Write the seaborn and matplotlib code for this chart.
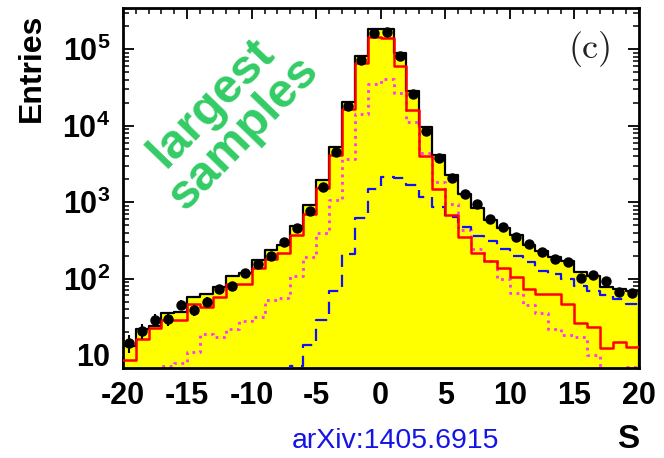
import numpy as np
import pandas as pd
import matplotlib
matplotlib.use("Agg")
import matplotlib.pyplot as plt
import seaborn as sns
from matplotlib.ticker import LogLocator, FuncFormatter, MultipleLocator, NullFormatter

# ---------------- data (bins of width 1 from -20 to 20) ----------------
bin_edges = list(range(-20, 21))

total_mc = [13, 21.6, 23.9, 35.7, 36.8, 57.8, 62.7, 78, 107, 117,
            175, 236, 275, 491, 916, 1946, 5310, 20600, 81600, 183000,
            183000, 90300, 28500, 9530, 4130, 2265, 1265, 830, 583, 454,
            371, 275, 231, 189, 171, 123, 108, 78, 72, 69]

red_comp = [8.6, 16, 22.3, 28.6, 28.6, 46.4, 42, 56.7, 84.8, 85,
            138, 178, 214, 371, 698, 1514, 4130, 16400, 65600, 143500,
            139000, 60500, 16000, 4000, 1470, 678, 346, 218, 169, 136,
            106, 72, 62, 62, 46, 26, 23, 12.4, 14.6, 12.8]

magenta_comp = [4, 5, 2, 7.2, 7.8, 11, 19, 17, 22, 28,
                31, 52, 55, 109, 193, 398, 1064, 3630, 14200, 34800,
                40500, 26500, 11300, 4350, 1850, 950, 432, 245, 168, 100,
                64, 45, 35, 22, 18, 17, 10, 5, 5, 7]

blue_comp = [2, 2, 2, 2, 2, 2, 2, 2, 2, 2,
             2, 2, 2, 7.2, 13.5, 28.7, 68, 208, 615, 1470,
             2150, 2070, 1650, 1175, 855, 646, 477, 360, 310, 240,
             197, 164, 127, 115, 100, 80, 69, 60, 54, 46]

data_pts = [14.5, 20.5, 29, 29.5, 45, 38.4, 49.7, 72, 80, 117,
            153, 199, 303, 453, 771, 1585, 4570, 18300, 72400, 162000,
            170000, 81600, 25800, 8600, 3740, 2050, 1265, 935, 595, 468,
            346, 281, 224, 180, 164, 102, 110, 92, 67, 64.5]

x_ticks = [-20, -15, -10, -5, 0, 5, 10, 15, 20]
x_tick_labels = ["-20", "-15", "-10", "-5", "0", "5", "10", "15", "20"]

# ---------------- style ----------------
sns.set_style("ticks")
plt.rcParams["font.family"] = ["Liberation Sans", "DejaVu Sans"]
plt.rcParams["font.weight"] = "bold"
plt.rcParams["text.color"] = "black"
plt.rcParams["xtick.color"] = "black"
plt.rcParams["ytick.color"] = "black"
plt.rcParams["axes.labelcolor"] = "black"
plt.rcParams["mathtext.fontset"] = "custom"
plt.rcParams["mathtext.rm"] = "Liberation Sans:bold"
plt.rcParams["mathtext.it"] = "Liberation Sans:bold:italic"
plt.rcParams["mathtext.bf"] = "Liberation Sans:bold"

centers = [e + 0.5 for e in bin_edges[:-1]]
df = pd.DataFrame({
    "S": centers,
    "total": total_mc,
    "red": red_comp,
    "magenta": magenta_comp,
    "blue": blue_comp,
    "data": data_pts,
})

fig = plt.figure(figsize=(6.64, 4.58), dpi=100)
ax = fig.add_axes([0.1848, 0.1965, 0.777, 0.7854])

sns.histplot(data=df, x="S", weights="total", bins=bin_edges, element="step",
             fill=True, color="#ffff00", edgecolor="black", linewidth=1.6,
             alpha=1.0, ax=ax, zorder=1)
sns.histplot(data=df, x="S", weights="magenta", bins=bin_edges, element="step",
             fill=False, color="#ff33ff", linewidth=2.0, linestyle=":",
             ax=ax, zorder=2)
sns.histplot(data=df, x="S", weights="blue", bins=bin_edges, element="step",
             fill=False, color="#1010ff", linewidth=1.6,
             linestyle=(0, (5.5, 3.5)), ax=ax, zorder=3)
sns.histplot(data=df, x="S", weights="red", bins=bin_edges, element="step",
             fill=False, color="#ff0000", linewidth=1.8, ax=ax, zorder=4)

ax.errorbar(df["S"], df["data"], yerr=np.sqrt(df["data"]), fmt="o",
            color="black", markersize=6.5, elinewidth=1.5, capsize=0, zorder=5)

ax.set_yscale("log")
ax.set_xlim(-20, 20)
ax.set_ylim(6.74, 3.44e5)
ax.set_xlabel("")
ax.set_ylabel("")

# ticks
ax.set_xticks(x_ticks)
ax.set_xticklabels(x_tick_labels)
ax.xaxis.set_minor_locator(MultipleLocator(1))
ax.yaxis.set_major_locator(LogLocator(base=10, numticks=10))
ax.yaxis.set_minor_locator(LogLocator(base=10, subs=np.arange(2, 10), numticks=20))
ax.yaxis.set_minor_formatter(NullFormatter())

def yfmt(v, pos):
    e = int(round(np.log10(v)))
    if e == 1:
        return "10"
    return r"$10^{%d}$" % e

ax.yaxis.set_major_formatter(FuncFormatter(yfmt))

ax.tick_params(axis="both", which="both", direction="in", top=True, right=True,
               color="black", labelcolor="black")
ax.tick_params(axis="both", which="major", length=8, width=1.3, labelsize=22)
ax.tick_params(axis="both", which="minor", length=4, width=1.1)
ax.tick_params(axis="x", which="major", pad=9)
ax.tick_params(axis="y", which="major", pad=9)
for lab in ax.get_xticklabels() + ax.get_yticklabels():
    lab.set_fontweight("bold")

for sp in ax.spines.values():
    sp.set_linewidth(2.0)
    sp.set_color("black")
    sp.set_visible(True)

# texts
fig.text(0.048, 0.852, "Entries", rotation=90, ha="center", va="center",
         fontsize=23, fontweight="bold", color="black")
fig.text(0.946, 0.040, "S", ha="center", va="center", fontsize=24,
         fontweight="bold", color="black")
fig.text(0.595, 0.038, "arXiv:1405.6915", ha="center", va="center",
         fontsize=20.5, fontweight="normal", color="#1414e6")
fig.text(0.889, 0.893, "(c)", ha="center", va="center", fontsize=26,
         family=["cmr10", "DejaVu Serif"], fontweight="normal", color="#222222")
fig.text(0.343, 0.742, "largest\nsamples", ha="center", va="center",
         rotation=46, rotation_mode="anchor", multialignment="center",
         fontsize=35, fontweight="bold", color="#33cc66", linespacing=0.95)

fig.savefig("out.png", dpi=100)
